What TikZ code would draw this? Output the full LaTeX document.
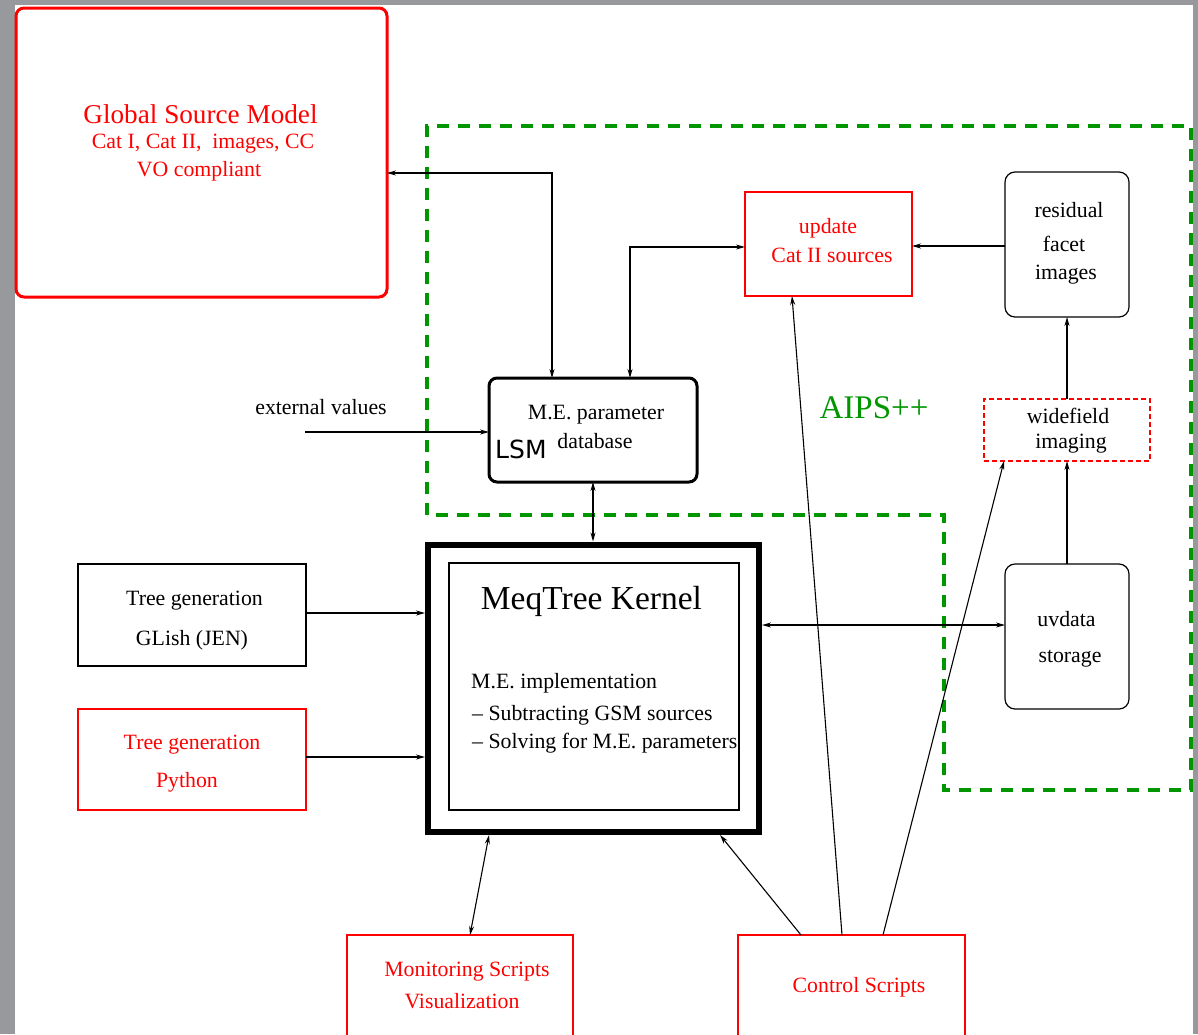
\documentclass[tikz,border=0pt]{standalone}
\usepackage{fontspec}
\setmainfont{Liberation Serif}
\newfontfamily\lsmfont{DejaVu Sans}
\usetikzlibrary{arrows.meta,fit}
\definecolor{bggrey}{RGB}{152,153,157}
\definecolor{dgreen}{RGB}{0,150,0}
\definecolor{fred}{RGB}{255,0,0}
\begin{document}
\begin{tikzpicture}[x=1pt,y=-1pt,
  box/.style={draw, inner sep=0pt, outer sep=0pt, line width=1.2pt},
  rbox/.style={box, draw=fred},
  conn/.style={line width=1.1pt, draw=black},
  tip/.style={-{Stealth[length=9pt,width=5pt]}},
  tips/.style={{Stealth[length=9pt,width=5pt]}-{Stealth[length=9pt,width=5pt]}},
  txt/.style={font=\fontsize{21.8}{25}\selectfont, anchor=base, inner sep=0pt},
  rtxt/.style={txt, text=fred},
]
\useasboundingbox (0,0) rectangle (1198,1034);
\fill[bggrey] (0,0) rectangle (1198,1034);
\fill[white] (15,5) rectangle (1193,1040);

% green dashed AIPS++ region
\draw[dgreen, line width=3.5pt, dash pattern=on 12pt off 9pt]
  (427,515) -- (427,126) -- (1191,126) -- (1191,790) -- (944,790) -- (944,515) -- cycle;
\node[txt, text=dgreen, font=\fontsize{33}{36}\selectfont] (aips) at (874,418) {AIPS++};

% Global Source Model
\node[box, draw=fred, line width=3pt, rounded corners=8pt, fit={(16,8) (387,297)}] (gsm) {};
\node[rtxt, font=\fontsize{27.2}{30}\selectfont] (gsmt) at (200.5,123) {Global Source Model};
\node[rtxt] (gsm2) at (203,148) {Cat I, Cat II,\ \ images, CC};
\node[rtxt] (gsm3) at (199,176) {VO compliant};

% update Cat II sources
\node[rbox, fit={(745,192) (912,296)}] (upd) {};
\node[rtxt] (upd1) at (828,233) {update};
\node[rtxt] (upd2) at (832,262) {Cat II sources};

% residual facet images
\node[box, rounded corners=10pt, fit={(1005,172) (1129,317)}] (res) {};
\node[txt] (res1) at (1069,217) {residual};
\node[txt] (res2) at (1064,251) {facet};
\node[txt] (res3) at (1066,279) {images};

% widefield imaging
\node[box, draw=fred, dash pattern=on 5pt off 3pt, fit={(984,399) (1150,461)}] (wf) {};
\node[txt] (wf1) at (1068,423) {widefield};
\node[txt] (wf2) at (1071,448) {imaging};

% LSM
\node[box, line width=3pt, rounded corners=8pt, fit={(489,378) (697,482)}] (lsm) {};
\node[txt] (lsm1) at (596,419) {M.E. parameter};
\node[txt] (lsm2) at (595,448) {database};
\node[txt, anchor=base west, font=\lsmfont\fontsize{25}{28}\selectfont] (lsml) at (495,458) {LSM};

% external values
\node[txt] (extt) at (321,414) {external values};
\coordinate (ext) at (305,432);

% MeqTree Kernel
\node[draw, line width=6pt, inner sep=0pt, outer sep=3pt, fit={(428,544.5) (759,832)}] (kernel) {};
\node[box, fit={(449,563) (739,810)}] (kin) {};
\node[txt, font=\fontsize{33.5}{36}\selectfont] (kt) at (591.5,609) {MeqTree Kernel};
\node[txt, anchor=base west] (k1) at (471,688) {M.E. implementation};
\node[txt, anchor=base west] (k2) at (472,720) {-- Subtracting GSM sources};
\node[txt, anchor=base west] (k3) at (472,748) {-- Solving for M.E. parameters};

% Tree generation boxes
\node[box, fit={(78,564) (306,666)}] (glish) {};
\node[txt] (gl1) at (194.5,605) {Tree generation};
\node[txt] (gl2) at (192,645) {GLish (JEN)};
\node[rbox, fit={(78,709) (306,810)}] (py) {};
\node[rtxt] (py1) at (192,749) {Tree generation};
\node[rtxt] (py2) at (187,787) {Python};

% uvdata storage
\node[box, rounded corners=10pt, fit={(1005,564) (1129,709)}] (uv) {};
\node[txt] (uv1) at (1066.5,626) {uvdata};
\node[txt] (uv2) at (1070,662) {storage};

% bottom boxes
\node[rbox, fit={(347,935) (573,1040)}] (mon) {};
\node[rtxt] (mon1) at (467,976) {Monitoring Scripts};
\node[rtxt] (mon2) at (462,1008) {Visualization};
\node[rbox, fit={(738,935) (965,1040)}] (ctl) {};
\node[rtxt] (ctl1) at (859,992) {Control Scripts};

% connectors
\draw[conn, tips] (gsm.east |- 0,173) -| (lsm.north -| 552,0);
\draw[conn, tips] (lsm.north -| 630,0) |- (upd.west |- 0,247);
\draw[conn, tip] (res.west |- 0,246) -- (upd.east |- 0,246);
\draw[conn, tip] (wf.north -| 1067,0) -- (res.south -| 1067,0);
\draw[conn, tip] (uv.north -| 1067,0) -- (wf.south -| 1067,0);
\draw[conn, tip] (ext) -- (lsm.west |- ext);
\draw[conn, tips] (lsm.south -| 593,0) -- (kernel.north -| 593,0);
\draw[conn, tip] (glish.east |- 0,613) -- (kernel.west |- 0,613);
\draw[conn, tip] (py.east |- 0,757) -- (kernel.west |- 0,757);
\draw[conn, tips] (kernel.east |- 0,625) -- (uv.west |- 0,625);
\draw[conn, tips] (mon.north -| 470,0) -- (kernel.south -| 489,0);
\draw[conn, tip] (ctl.north -| 801,0) -- (kernel.south -| 720,0);
\draw[conn, tip] (ctl.north -| 842,0) -- (upd.south -| 792,0);
\draw[conn, tip] (ctl.north -| 883,0) -- (wf.south -| 1004,0);
\end{tikzpicture}
\end{document}
